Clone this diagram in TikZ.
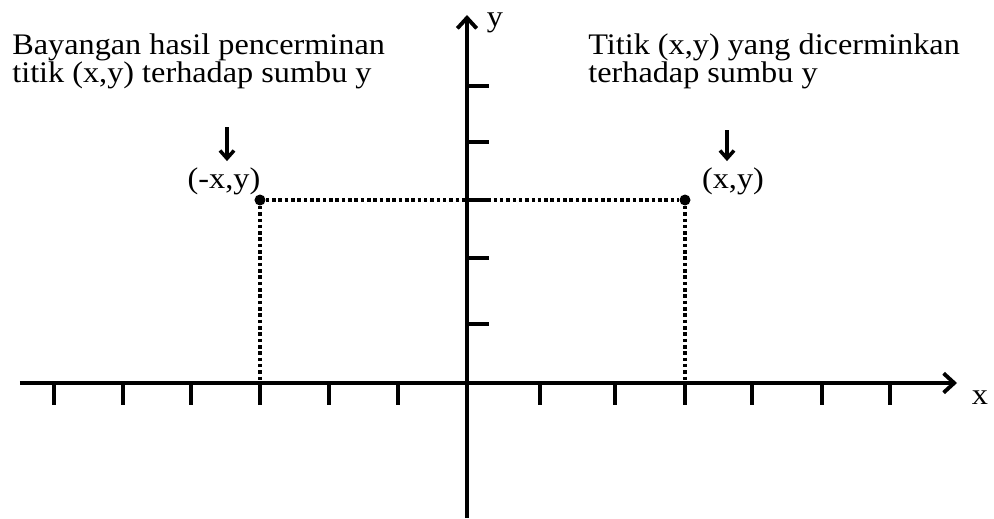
\documentclass[tikz,border=0pt]{standalone}
\usepackage{fontspec}
\setmainfont{Liberation Serif}[FakeStretch=1.08]
\usetikzlibrary{arrows.meta}
\tikzset{
  axisline/.style={line width=2.2pt,-{Straight Barb[length=6pt,width=11pt]}},
  ticks/.style={line width=2.2pt},
  proj/.style={line width=2.2pt,dash pattern=on 2pt off 1.6pt},
  ptdot/.style={circle,fill,inner sep=0pt,minimum size=0.22cm},
  lbl/.style={font=\fontsize{17}{16}\selectfont},
  note/.style={lbl,align=left,inner sep=0pt,anchor=base west},
  down/.style={line width=2pt,-{Straight Barb[length=4.5pt,width=8pt]}}
}
\begin{document}
\begin{tikzpicture}[x=0.02cm,y=0.02cm]
    \useasboundingbox (-467,-135) rectangle (527,383);
    \coordinate (xl) at (-447,0);
    \coordinate (xr) at (490,0);
    \coordinate (yb) at (0,-135);
    \coordinate (yt) at (0,368);
    \draw[axisline] (xl) -- (xr);
    \draw[axisline] (yb) -- (yt);
    \node[lbl] (xlab) at (513,-15) {x};
    \node[lbl] (ylab) at (28,360) {y};
    \foreach \x in {-413,-344,-276,-207,-138,-69,73,148,218,285,355,423}
        \draw[ticks] (\x,0) -- (\x,-22);
    \foreach \y in {59,125,183,241,297}
        \draw[ticks] (0,\y) -- (22,\y);
    \node[ptdot] (q) at (-207,183) {};
    \node[ptdot] (p) at (218,183) {};
    \coordinate (q0) at (-207,0);
    \coordinate (p0) at (218,0);
    \draw[proj] (q) -- (p);
    \draw[proj] (q) -- (q0);
    \draw[proj] (p) -- (p0);
    \node[lbl,anchor=base] (ql) at (-243,195) {(-x,y)};
    \node[lbl,anchor=base] (pl) at (266,195) {(x,y)};
    \coordinate (qa) at (-240,256);
    \coordinate (pa) at (260,253);
    \draw[down] (qa) -- (qa |- ql.north);
    \draw[down] (pa) -- (pa |- pl.north);
    \node[note] (left) at (-455,300) {Bayangan hasil pencerminan\\titik (x,y) terhadap sumbu y};
    \node[note] (right) at (121,300) {Titik (x,y) yang dicerminkan\\terhadap sumbu y};
\end{tikzpicture}
\end{document}
